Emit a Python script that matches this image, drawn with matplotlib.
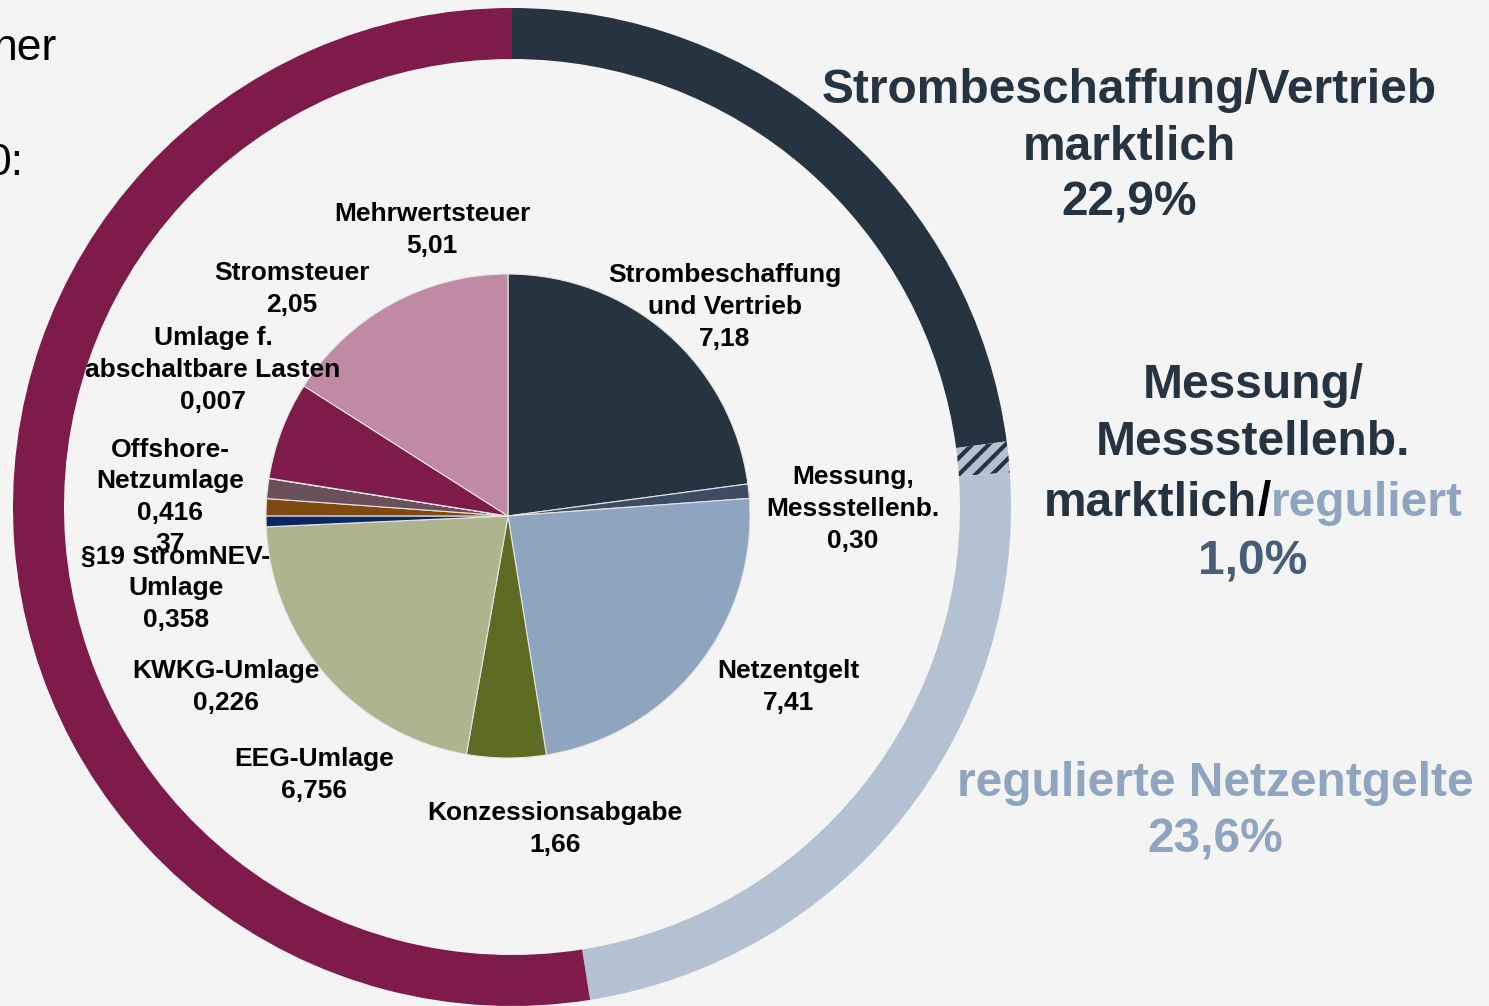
import matplotlib
matplotlib.use('Agg')
import matplotlib.pyplot as plt

W, H = 1489, 1006
BG = '#f4f4f4'
plt.rcParams['font.family'] = ['Liberation Sans', 'DejaVu Sans']
plt.rcParams['hatch.linewidth'] = 3.0

# ---- data ----
inner_labels = ['Strombeschaffung\nund Vertrieb', 'Messung,\nMessstellenb.', 'Netzentgelt',
                'Konzessionsabgabe', 'EEG-Umlage', 'KWKG-Umlage', '§19 StromNEV-\nUmlage',
                'Offshore-\nNetzumlage', 'Umlage f.\nabschaltbare Lasten', 'Stromsteuer',
                'Mehrwertsteuer']
inner_values = [7.18, 0.30, 7.41, 1.66, 6.756, 0.226, 0.358, 0.416, 0.007, 2.05, 5.01]
inner_value_text = ['7,18', '0,30', '7,41', '1,66', '6,756', '0,226', '0,358', '0,416\n37',
                    '0,007', '2,05', '5,01']
inner_colors = ['#263341', '#3b4c63', '#8fa5bf', '#5e6b22', '#b0b48e', '#0d2660',
                '#7f4a10', '#6b4f5a', '#8a6a78', '#7e1b4b', '#c08aa5']

outer_labels = ['Strombeschaffung/Vertrieb\nmarktlich', 'Messung/\nMessstellenb.',
                'regulierte Netzentgelte', 'Steuern, Abgaben, Umlagen']
outer_values = [22.9, 1.0, 23.6, 52.5]
outer_value_text = ['22,9%', '1,0%', '23,6%', '']
outer_colors = ['#263341', '#b3c1d3', '#b3c1d3', '#7e1b4b']

# ---- figure ----
fig = plt.figure(figsize=(W / 100, H / 100), dpi=100, facecolor=BG)
ax = fig.add_axes([0, 0, 1, 1])
ax.set_facecolor(BG)

def Y(p):
    return H - p

# outer ring
ow, _ = ax.pie(outer_values, colors=outer_colors, radius=499, center=(512, Y(507)),
               startangle=90, counterclock=False,
               wedgeprops=dict(width=51, linewidth=0))
ow[1].set_hatch('//')
ow[1].set_edgecolor('#263341')
ow[1].set_linewidth(0)

# inner pie
iw, _ = ax.pie(inner_values, colors=inner_colors, radius=242, center=(508, Y(516)),
               startangle=90, counterclock=False,
               wedgeprops=dict(linewidth=0.8, edgecolor='#e4e4e4'))

ax.set_xlim(0, W)
ax.set_ylim(0, H)
ax.set_aspect('equal')
ax.axis('off')

# inner labels
label_pos = [(725, 307), (853, 509), (788, 687), (555, 829), (314, 775), (226, 687),
             (176, 588), (170, 497), (213, 370), (292, 289), (432, 230)]
for lab, val, (x, y) in zip(inner_labels, inner_value_text, label_pos):
    ax.text(x, Y(y), lab + '\n' + val, ha='center', va='center', fontsize=19,
            fontweight='bold', color='black', linespacing=1.4)

# outer labels
DARK = '#263341'
LIGHT = '#8fa5bf'
LS = 1.32
ax.text(1129, Y(147), outer_labels[0] + '\n' + outer_value_text[0], ha='center', va='center',
        fontsize=34.5, fontweight='bold', color=DARK, linespacing=LS)
ax.text(1253, Y(414), outer_labels[1], ha='center', va='center',
        fontsize=34.5, fontweight='bold', color=DARK, linespacing=LS)
ax.text(1253, Y(562), outer_value_text[1], ha='center', va='center',
        fontsize=34.5, fontweight='bold', color='#475d78')
ax.text(1215, Y(812), outer_labels[2] + '\n' + outer_value_text[2], ha='center', va='center',
        fontsize=34.5, fontweight='bold', color=LIGHT, linespacing=LS)

# multi-coloured line "marktlich/reguliert"
parts = [('marktlich', DARK), ('/', 'black'), ('reguliert', LIGHT)]
texts = [ax.text(0, Y(503), s, ha='left', va='center', fontsize=34.5, fontweight='bold', color=c)
         for s, c in parts]
r = fig.canvas.get_renderer()
widths = [t.get_window_extent(renderer=r).width for t in texts]
x0 = 1253 - sum(widths) / 2
for t, w in zip(texts, widths):
    t.set_x(x0)
    x0 += w

# cut-off slide text at top-left (cut off in the reference too)
ax.text(57, Y(48), 'her', ha='right', va='center', fontsize=32, color='black')
ax.text(23, Y(163), '0:', ha='right', va='center', fontsize=32, color='black')

fig.savefig('out.png', dpi=100, facecolor=BG)
